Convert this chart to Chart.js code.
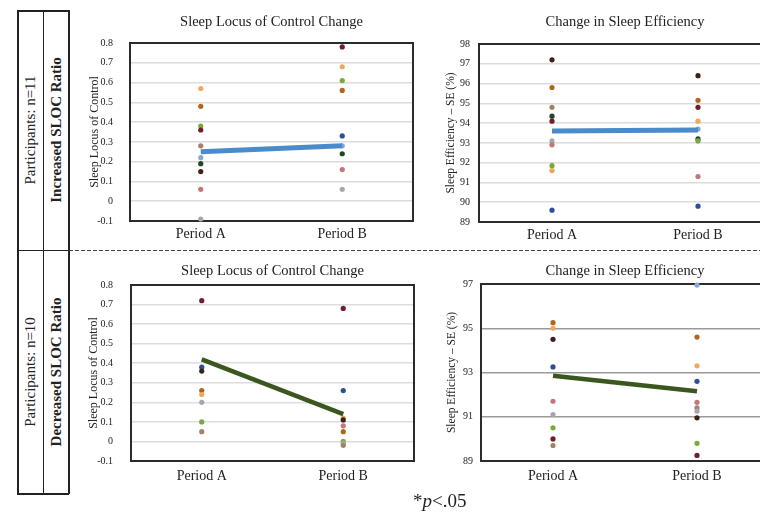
<!DOCTYPE html>
<html>
<head>
<meta charset="utf-8">
<script src="https://cdn.jsdelivr.net/npm/chart.js@4"></script>
<style>
body{margin:0;width:760px;height:516px;overflow:hidden;background:#fff;position:relative;font-family:"Liberation Serif",serif;color:#222;}
canvas{position:absolute;}
.line{position:absolute;background:#222;}
.lbl{position:absolute;transform:translate(-50%,-50%) rotate(-90deg);white-space:nowrap;font-size:15px;line-height:15px;}
#dash{position:absolute;left:69px;top:250px;width:691px;height:1px;background:repeating-linear-gradient(to right,#444 0 4px,transparent 4px 6px);}
#note{position:absolute;left:413px;top:491px;font-size:19px;line-height:19px;font-family:"Liberation Serif",serif;}
</style>
</head>
<body>

<!-- left group table -->
<div class="line" style="left:17px;top:10px;width:52px;height:1.5px"></div>
<div class="line" style="left:17px;top:493px;width:52px;height:1.5px"></div>
<div class="line" style="left:17px;top:249.5px;width:52px;height:1.5px"></div>
<div class="line" style="left:17px;top:10px;width:1.5px;height:484px"></div>
<div class="line" style="left:42.5px;top:10px;width:1.5px;height:484px"></div>
<div class="line" style="left:68px;top:10px;width:1.5px;height:484px"></div>
<div class="lbl" style="left:30px;top:130px">Participants: n=11</div>
<div class="lbl" style="left:56px;top:130px;font-weight:bold">Increased SLOC Ratio</div>
<div class="lbl" style="left:30px;top:372px">Participants: n=10</div>
<div class="lbl" style="left:56px;top:372px;font-weight:bold">Decreased SLOC Ratio</div>
<div id="dash"></div>

<canvas id="c1" width="340" height="250" style="left:80px;top:0px"></canvas>
<canvas id="c2" width="360" height="250" style="left:420px;top:0px"></canvas>
<canvas id="c3" width="340" height="250" style="left:80px;top:250px"></canvas>
<canvas id="c4" width="360" height="250" style="left:420px;top:250px"></canvas>

<div id="note">*<i>p</i>&lt;.05</div>

<script>

/* DATA */

let periods = ["Period A","Period B"];

// colours used for participant dots
let dRed="#6e1f2a", bOrange="#b0651f", lOrange="#f0a85a", green="#7aa83a", dGreen="#1f4a1f",
    tan="#a08468", lBlue="#8aa6d6", dBlue="#2d4f93", pink="#c07878", gray="#a6a6b0", dBrown="#3b2216";

// increased group - sleep locus of control
let slocIncA = [0.57,0.48,0.38,0.36,0.28,0.22,0.19,0.15,0.06,-0.09];
let slocIncAColors = [lOrange,bOrange,green,dRed,tan,lBlue,dGreen,dBrown,pink,gray];
let slocIncB = [0.78,0.68,0.61,0.56,0.33,0.28,0.24,0.16,0.06];
let slocIncBColors = [dRed,lOrange,green,bOrange,dBlue,lBlue,dGreen,pink,gray];
let slocIncMean = [0.25,0.28];

// increased group - sleep efficiency
let seIncA = [97.2,95.8,94.8,94.35,94.1,93.1,92.9,91.85,91.6,89.6];
let seIncAColors = [dBrown,bOrange,tan,dGreen,dRed,gray,pink,green,lOrange,dBlue];
let seIncB = [96.4,95.15,94.8,94.1,93.7,93.2,93.1,91.3,89.8];
let seIncBColors = [dBrown,bOrange,dRed,lOrange,lBlue,dGreen,green,pink,dBlue];
let seIncMean = [93.6,93.65];

// decreased group - sleep locus of control
let slocDecA = [0.72,0.38,0.36,0.26,0.24,0.20,0.10,0.05];
let slocDecAColors = [dRed,dBlue,dBrown,bOrange,lOrange,gray,green,tan];
let slocDecB = [0.68,0.26,0.12,0.11,0.08,0.05,0.00,-0.01,-0.02];
let slocDecBColors = [dRed,dBlue,lOrange,dBrown,pink,bOrange,green,gray,tan];
let slocDecMean = [0.42,0.14];

// decreased group - sleep efficiency
let seDecA = [95.25,95.0,94.5,93.25,91.7,91.1,90.5,90.0,89.7];
let seDecAColors = [bOrange,lOrange,dBrown,dBlue,pink,gray,green,dRed,tan];
let seDecB = [96.95,94.6,93.3,92.6,91.65,91.4,91.25,90.95,89.8,89.25];
let seDecBColors = [lBlue,bOrange,lOrange,dBlue,pink,tan,gray,dBrown,green,dRed];
let seDecMean = [92.85,92.15];

// tick labels
let slocTicks = [-0.1,0,0.1,0.2,0.3,0.4,0.5,0.6,0.7,0.8];
let seIncTicks = [89,90,91,92,93,94,95,96,97,98];
let seDecTicks = [89,91,93,95,97];


/* FRAME AROUND PLOT AREA */

let frame = {
id:"frame",
beforeDatasetsDraw(chart){
let a = chart.chartArea, ctx = chart.ctx;
ctx.save();
ctx.strokeStyle="#2b2b2b";
ctx.lineWidth=2;
ctx.strokeRect(a.left,a.top,a.right-a.left,a.bottom-a.top);
ctx.restore();
}
};

let serif = "'Liberation Serif', serif";


/* BUILD ONE CHART */

function makeChart(id,o){

let pts = o.a.map(v=>({x:periods[0],y:v})).concat(o.b.map(v=>({x:periods[1],y:v})));

new Chart(document.getElementById(id),{

type:"line",

data:{
labels:periods,
datasets:[
{data:o.mean,borderColor:o.lineColor,borderWidth:o.lineWidth,pointRadius:0,order:0,clip:false},
{data:pts,showLine:false,pointRadius:2.6,pointBorderWidth:0,
pointBackgroundColor:o.aColors.concat(o.bColors),order:1,clip:false}
]
},

options:{
responsive:false,
animation:false,
events:[],
layout:{padding:{left:0,top:0,bottom:0,right:o.padRight}},
plugins:{
legend:{display:false},
tooltip:{enabled:false},
title:{display:true,text:o.title,color:"#222",fullSize:false,
font:{family:serif,size:14.5,weight:"normal"},
padding:{top:o.titleTop,bottom:o.titleBottom}}
},
scales:{
x:{
offset:true,
grid:{display:false,drawTicks:false},
border:{display:false},
ticks:{color:"#222",font:{family:serif,size:14},padding:o.xPad},
afterFit:s=>{s.height=o.xH;}
},
y:{
min:o.ticks[0],
max:o.ticks[o.ticks.length-1],
grid:{color:o.gridColor,lineWidth:1.5,drawTicks:false},
border:{display:false},
ticks:{color:"#222",font:{family:serif,size:10},padding:o.yPad},
afterBuildTicks:s=>{s.ticks=o.ticks.map(v=>({value:v}));},
title:{display:true,text:o.yTitle,color:"#222",font:{family:serif,size:o.yTitleSize},
padding:{top:o.yTitlePad,bottom:0}},
afterFit:s=>{s.width=o.yW;}
}
}
},

plugins:[frame]

});

}


makeChart("c1",{
title:"Sleep Locus of Control Change",yTitle:"Sleep Locus of Control",yTitleSize:12,
a:slocIncA,aColors:slocIncAColors,b:slocIncB,bColors:slocIncBColors,mean:slocIncMean,
ticks:slocTicks,lineColor:"#4a8bc9",lineWidth:5,gridColor:"#dcdcdc",
titleTop:13.3,titleBottom:12.3,xH:29,xPad:5,yW:50,yPad:17,yTitlePad:7.5,padRight:7
});

makeChart("c2",{
title:"Change in Sleep Efficiency",yTitle:"Sleep Efficiency – SE (%)",yTitleSize:11.5,
a:seIncA,aColors:seIncAColors,b:seIncB,bColors:seIncBColors,mean:seIncMean,
ticks:seIncTicks,lineColor:"#4a8bc9",lineWidth:5,gridColor:"#dcdcdc",
titleTop:13.3,titleBottom:13.3,xH:28,xPad:5,yW:59,yPad:9,yTitlePad:24.1,padRight:9
});

makeChart("c3",{
title:"Sleep Locus of Control Change",yTitle:"Sleep Locus of Control",yTitleSize:12,
a:slocDecA,aColors:slocDecAColors,b:slocDecB,bColors:slocDecBColors,mean:slocDecMean,
ticks:slocTicks,lineColor:"#3b5720",lineWidth:4.5,gridColor:"#dddddd",
titleTop:12.3,titleBottom:5.3,xH:39,xPad:7,yW:51,yPad:18,yTitlePad:7,padRight:6
});

makeChart("c4",{
title:"Change in Sleep Efficiency",yTitle:"Sleep Efficiency – SE (%)",yTitleSize:11.5,
a:seDecA,aColors:seDecAColors,b:seDecB,bColors:seDecBColors,mean:seDecMean,
ticks:seDecTicks,lineColor:"#3b5720",lineWidth:4.5,gridColor:"#9a9a9a",
titleTop:12.3,titleBottom:4.3,xH:39,xPad:7,yW:61,yPad:8,yTitlePad:25.1,padRight:11
});

</script>
</body>
</html>
